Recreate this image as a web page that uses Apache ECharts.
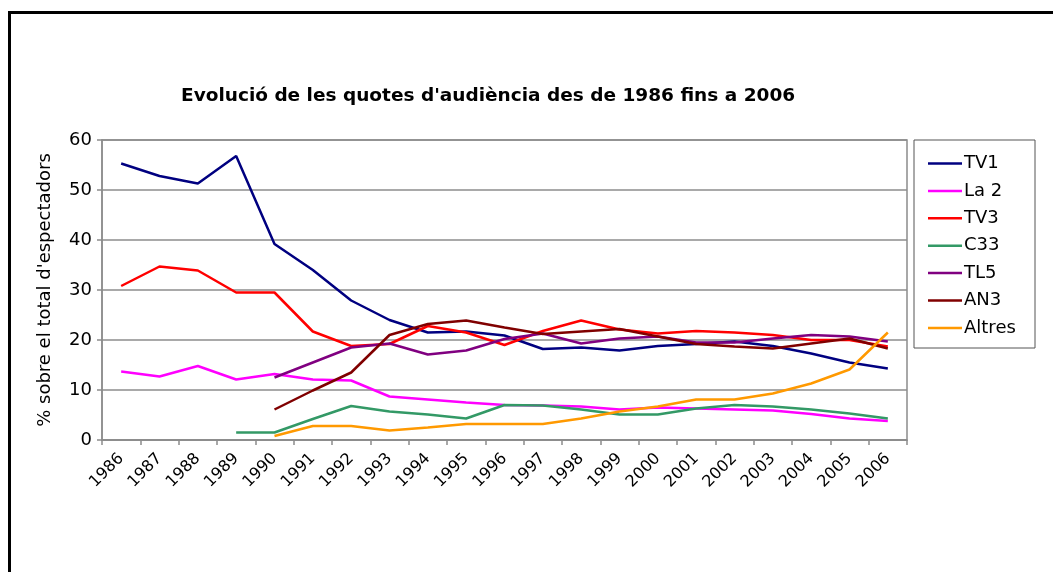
<!DOCTYPE html>
<html><head><meta charset="utf-8">
<script src="https://cdn.jsdelivr.net/npm/echarts@6/dist/echarts.min.js"></script>
<style>html,body{margin:0;padding:0;background:#fff}#c{width:1053px;height:572px}</style>
</head><body><div id="c"></div>
<script>
const years = ['1986','1987','1988','1989','1990','1991','1992','1993','1994','1995','1996','1997','1998','1999','2000','2001','2002','2003','2004','2005','2006'];
const tv1 = [55.3,52.8,51.3,56.8,39.2,34.0,27.9,24.0,21.5,21.7,20.9,18.2,18.5,17.9,18.8,19.2,19.7,18.8,17.3,15.5,14.3];
const la2 = [13.7,12.7,14.8,12.1,13.2,12.1,11.9,8.7,8.1,7.5,7.0,6.9,6.7,6.1,6.5,6.3,6.1,5.9,5.2,4.3,3.8];
const tv3 = [30.8,34.7,33.9,29.5,29.5,21.7,18.8,19.2,22.8,21.5,19.0,21.8,23.9,22.1,21.3,21.8,21.5,21.0,20.0,20.0,18.7];
const c33 = [null,null,null,1.5,1.5,4.2,6.8,5.7,5.1,4.3,7.0,6.9,6.1,5.1,5.1,6.3,7.0,6.7,6.1,5.3,4.3];
const tl5 = [null,null,null,null,12.5,15.5,18.5,19.3,17.1,17.9,20.2,21.3,19.3,20.3,20.7,19.5,19.5,20.3,21.0,20.7,19.7];
const an3 = [null,null,null,null,6.1,9.9,13.5,21.0,23.2,23.9,22.5,21.2,21.7,22.2,20.7,19.2,18.7,18.3,19.3,20.3,18.3];
const altres = [null,null,null,null,0.8,2.8,2.8,1.9,2.5,3.2,3.2,3.2,4.3,5.7,6.7,8.1,8.1,9.3,11.3,14.1,21.5];
const yTicks = [0,10,20,30,40,50,60];

const names = ['TV1','La 2','TV3','C33','TL5','AN3','Altres'];
const colors = ['#000080','#ff00ff','#ff0000','#339966','#800080','#800000','#ff9900'];
const datas = [tv1,la2,tv3,c33,tl5,an3,altres];

const font = '"DejaVu Sans", sans-serif';
const chart = echarts.init(document.getElementById('c'));
chart.setOption({
  animation:false,
  backgroundColor:'#fff',
  title:{text:"Evolució de les quotes d'audiència des de 1986 fins a 2006",left:181,top:87,padding:0,
    textStyle:{fontFamily:font,fontSize:18.5,fontWeight:'bold',color:'#000'}},
  grid:{left:102,right:146,top:140,bottom:132,show:true,borderColor:'#8c8c8c',borderWidth:1.5},
  legend:{orient:'vertical',left:928,top:154.5,padding:0,icon:'rect',itemWidth:34,itemHeight:2.5,itemGap:9.4,
    textStyle:{fontFamily:font,fontSize:18,lineHeight:18,color:'#000',padding:[0,0,0,-3]},data:names},
  xAxis:{type:'category',data:years,boundaryGap:true,
    axisLine:{lineStyle:{color:'#8c8c8c',width:1.5}},
    axisTick:{show:true,length:5,lineStyle:{color:'#8c8c8c',width:1.5}},
    axisLabel:{rotate:45,margin:16,fontFamily:font,fontSize:16,color:'#000',interval:0}},
  yAxis:{type:'value',min:yTicks[0],max:yTicks[yTicks.length-1],interval:10,
    name:"% sobre el total d'espectadors",nameLocation:'middle',nameGap:48,nameRotate:90,
    nameTextStyle:{fontFamily:font,fontSize:18,color:'#000'},
    axisLine:{show:true,lineStyle:{color:'#8c8c8c',width:1.5}},
    axisTick:{show:true,length:5,lineStyle:{color:'#8c8c8c',width:1.5}},
    axisLabel:{margin:10,fontFamily:font,fontSize:18,color:'#000'},
    splitLine:{lineStyle:{color:'#8c8c8c',width:1.5}}},
  series:names.map((n,i)=>({name:n,type:'line',data:datas[i],symbol:'none',showSymbol:false,
    connectNulls:false,color:colors[i],lineStyle:{color:colors[i],width:2.5}})),
  graphic:[
    {type:'rect',shape:{x:914,y:140,width:121,height:208},style:{fill:'none',stroke:'#555',lineWidth:1}},
    {type:'line',shape:{x1:9.5,y1:11,x2:9.5,y2:572},style:{stroke:'#000',lineWidth:3}},
    {type:'line',shape:{x1:8,y1:12.5,x2:1053,y2:12.5},style:{stroke:'#000',lineWidth:3}}
  ]
});
</script></body></html>
